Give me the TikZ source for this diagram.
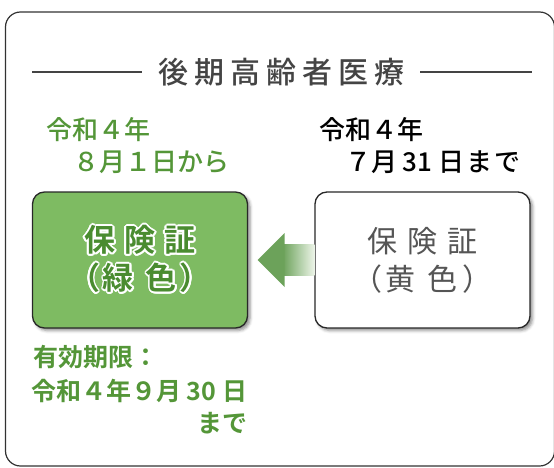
\documentclass[tikz,border=0pt]{standalone}
\usepackage{fontspec}
\usepackage{contour}
\usetikzlibrary{calc,shadows.blur}
\newfontfamily\jp{Noto Sans CJK JP}[BoldFont={Noto Sans CJK JP Bold}]
\newfontfamily\jpm{Noto Sans CJK JP Medium}
\definecolor{gtext}{RGB}{84,150,56}
\definecolor{boxgreen}{RGB}{126,187,98}
\definecolor{boxgtext}{RGB}{74,140,48}
\definecolor{arrowgreen}{RGB}{108,162,90}
\definecolor{arrowlight}{RGB}{236,244,232}
\definecolor{titlegray}{RGB}{68,68,68}
\definecolor{wtext}{RGB}{85,85,85}
\definecolor{boxline}{RGB}{40,40,40}
\definecolor{framecol}{RGB}{50,50,50}
\contourlength{1.8pt}
\contournumber{16}
\begin{document}
\begin{tikzpicture}[x=1pt,y=-1pt,
  every node/.style={inner sep=0pt,outer sep=0pt},
  frame/.style={draw=framecol,line width=1.2pt,rounded corners=15pt,anchor=north west,minimum width=549pt,minimum height=454pt},
  titletxt/.style={font=\jpm\fontsize{30}{36}\selectfont,text=titlegray},
  rule/.style={draw=titlegray,line width=1.3pt},
  gdate/.style={font=\jpm\fontsize{26}{30}\selectfont,text=gtext,anchor=west},
  kdate/.style={font=\jpm\fontsize{26}{30}\selectfont,text=black,anchor=west},
  card/.style={draw=boxline,line width=1.3pt,rounded corners=12pt,minimum width=215pt,minimum height=136pt,align=center,
    blur shadow={shadow xshift=2.5pt,shadow yshift=-2.5pt,shadow blur radius=3pt,shadow opacity=45}},
  gcard/.style={card,fill=boxgreen,font=\jp\bfseries\fontsize{31}{38}\selectfont,text=boxgtext},
  wcard/.style={card,fill=white,font=\jp\fontsize{30}{38}\selectfont,text=wtext},
  btxt/.style={font=\jp\bfseries\fontsize{25}{28}\selectfont,text=gtext}
]
\useasboundingbox (0,0) rectangle (554,468);
\clip (0,0) rectangle (554,468);
\node[frame] (outer) at (5.5,12) {};
% title
\node[titletxt] (title) at (281.5,72) {後\hspace{6pt}期\hspace{6pt}高\hspace{6pt}齢\hspace{6pt}者\hspace{6pt}医\hspace{6pt}療};
\coordinate (l1a) at (32,72);
\coordinate (l1b) at (142,72);
\coordinate (l2a) at (420,72);
\coordinate (l2b) at (532,72);
\draw[rule] (l1a) -- (l1b);
\draw[rule] (l2a) -- (l2b);
% dates
\node[gdate] (g1) at (46,130) {令和４年};
\node[gdate] (g2) at (73,162) {８月１日から};
\node[kdate] (k1) at (319,130) {令和４年};
\node[kdate] (k2) at (345,162) {７月 31 日\hspace{2pt}ま\hspace{2pt}で};
% cards
\node[gcard] (gbox) at (140,260) {\contour{white}{保\hspace{9pt}険\hspace{9pt}証}\\\contour{white}{（\hspace{3pt}緑\hspace{12pt}色\hspace{3pt}）}};
\node[wcard] (wbox) at (422.5,260) {保\hspace{10pt}険\hspace{10pt}証\\（\hspace{3pt}黄\hspace{12pt}色\hspace{5pt}）};
% arrow
\coordinate (tip) at ($(gbox.east)+(10,0)$);
\shade[left color=arrowgreen,right color=arrowlight] ($(tip)+(25,-15.5)$) rectangle ($(wbox.west)+(-0.7,15.5)$);
\fill[arrowgreen] (tip) -- ($(tip)+(27,-27)$) -- ($(tip)+(27,27)$) -- cycle;
% bottom text
\node[btxt,anchor=west] (b1) at (33,357) {有効期限：};
\node[btxt,anchor=east] (b2) at (247,391) {令和４年９月 30 日};
\node[btxt,anchor=east] (b3) at (247,423) {まで};
\end{tikzpicture}
\end{document}
